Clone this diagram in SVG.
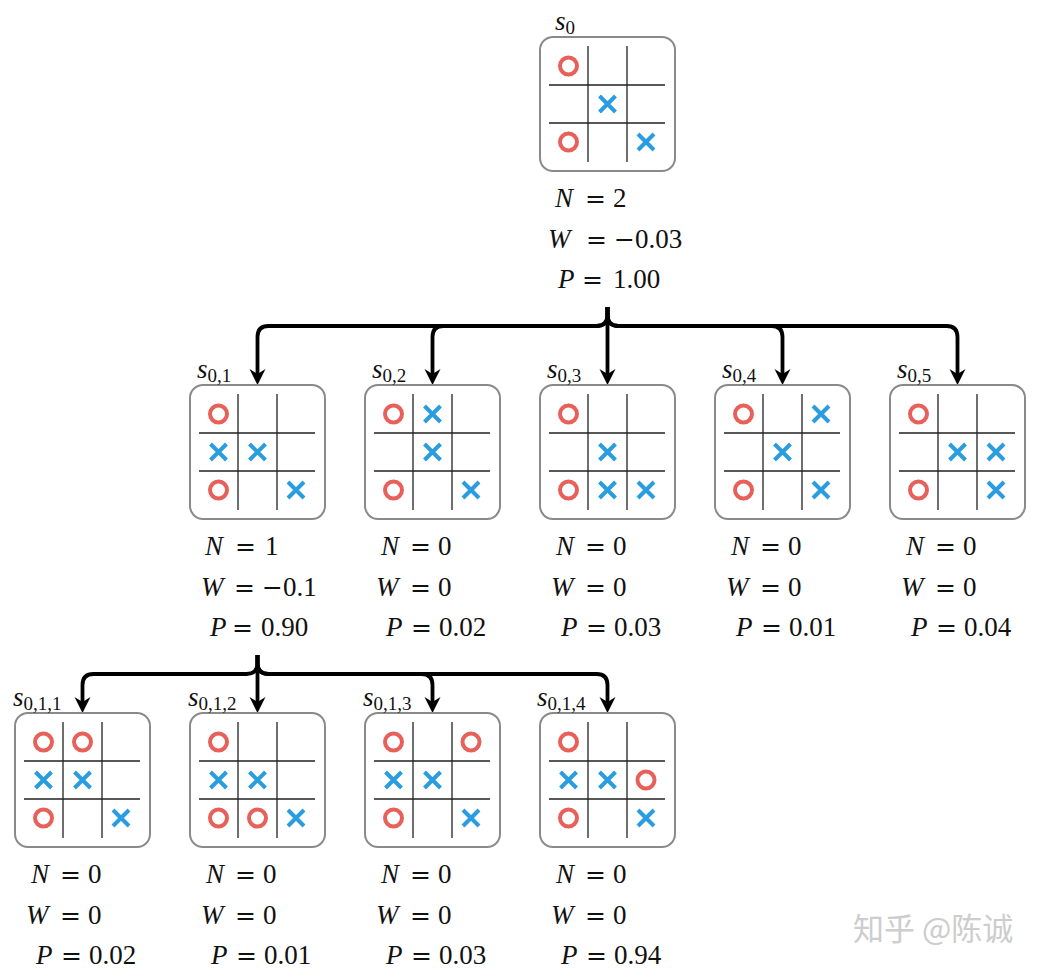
<svg xmlns="http://www.w3.org/2000/svg" xmlns:xlink="http://www.w3.org/1999/xlink" width="1042" height="972" viewBox="0 0 1042 972">
<style>
.box{fill:#fff;stroke:#8a8a8a;stroke-width:2}
.grid{fill:none;stroke:#222;stroke-width:1.3}
.o{fill:none;stroke:#E8605A;stroke-width:4}
.x{fill:none;stroke:#2A9DE0;stroke-width:4}
.conn{fill:none;stroke:#000;stroke-width:3.8;marker-end:url(#arr)}
.t{font-family:"Liberation Serif","Times New Roman",serif;font-size:27px;fill:#111}
.i{font-style:italic}
.eq{font-family:"DejaVu Serif",serif;font-size:25px}
.sub{font-size:19px}
.wm{font-family:"Noto Sans CJK SC",sans-serif;font-size:31px;fill:#cdcdcd}
</style>
<defs>
<marker id="arr" viewBox="0 -10 20 20" refX="6" refY="0" markerWidth="20" markerHeight="20" markerUnits="userSpaceOnUse" orient="auto">
<path d="M0,-8 L16,0 L0,8 L5,0 Z" fill="#000"/>
</marker>
<g id="board">
<rect x="0" y="0" width="135" height="134" rx="13" class="box"/>
<path class="grid" d="M48,9V125M87,9V125M9,48H125M9,86H125"/>
</g>
<circle id="o" r="8.5" class="o"/>
<path id="x" class="x" d="M-8,-8L8,8M-8,8L8,-8"/>
</defs>
<rect width="1042" height="972" fill="#fff"/>

<g id="connectors">
<path class="conn" d="M607.5,307V315Q607.5,326 596.5,326H268.5Q257.5,326 257.5,337V375"/>
<path class="conn" d="M607.5,307V315Q607.5,326 596.5,326H443.5Q432.5,326 432.5,337V375"/>
<path class="conn" d="M607.5,307V375"/>
<path class="conn" d="M607.5,307V315Q607.5,326 618.5,326H771.5Q782.5,326 782.5,337V375"/>
<path class="conn" d="M607.5,307V315Q607.5,326 618.5,326H946.5Q957.5,326 957.5,337V375"/>
<path class="conn" d="M257.5,655V663Q257.5,674 246.5,674H93.5Q82.5,674 82.5,685V703"/>
<path class="conn" d="M257.5,655V703"/>
<path class="conn" d="M257.5,655V663Q257.5,674 268.5,674H421.5Q432.5,674 432.5,685V703"/>
<path class="conn" d="M257.5,655V663Q257.5,674 268.5,674H596.5Q607.5,674 607.5,685V703"/>
</g>

<g id="s0" transform="translate(540,37)">
<use href="#board"/>
<use href="#o" x="28.5" y="29"/><use href="#x" x="67.5" y="67"/><use href="#o" x="28.5" y="105"/><use href="#x" x="106" y="105"/>
<text class="t" x="15" y="-7"><tspan class="i">s</tspan><tspan class="sub" dy="4">0</tspan></text>
<text class="t" y="170"><tspan class="i" x="15">N</tspan><tspan class="eq" x="45">=</tspan><tspan x="73">2</tspan></text>
<text class="t" y="211"><tspan class="i" x="8">W</tspan><tspan class="eq" x="46">=</tspan><tspan class="eq" x="74">−</tspan><tspan x="95">0.03</tspan></text>
<text class="t" y="251"><tspan class="i" x="18">P</tspan><tspan class="eq" x="42">=</tspan><tspan x="73">1.00</tspan></text>
</g>

<g id="s01" transform="translate(190,385)">
<use href="#board"/>
<use href="#o" x="28.5" y="29"/><use href="#x" x="28.5" y="67"/><use href="#x" x="67.5" y="67"/><use href="#o" x="28.5" y="105"/><use href="#x" x="106" y="105"/>
<text class="t" x="7" y="-7"><tspan class="i">s</tspan><tspan class="sub" dy="4">0,1</tspan></text>
<text class="t" y="170"><tspan class="i" x="15">N</tspan><tspan class="eq" x="45">=</tspan><tspan x="75">1</tspan></text>
<text class="t" y="211"><tspan class="i" x="11">W</tspan><tspan class="eq" x="44">=</tspan><tspan class="eq" x="72">−</tspan><tspan x="93">0.1</tspan></text>
<text class="t" y="251"><tspan class="i" x="20">P</tspan><tspan class="eq" x="42">=</tspan><tspan x="71">0.90</tspan></text>
</g>

<g id="s02" transform="translate(365,385)">
<use href="#board"/>
<use href="#o" x="28.5" y="29"/><use href="#x" x="67.5" y="29"/><use href="#x" x="67.5" y="67"/><use href="#o" x="28.5" y="105"/><use href="#x" x="106" y="105"/>
<text class="t" x="7" y="-7"><tspan class="i">s</tspan><tspan class="sub" dy="4">0,2</tspan></text>
<text class="t" y="170"><tspan class="i" x="16">N</tspan><tspan class="eq" x="45">=</tspan><tspan x="73">0</tspan></text>
<text class="t" y="211"><tspan class="i" x="11">W</tspan><tspan class="eq" x="45">=</tspan><tspan x="73">0</tspan></text>
<text class="t" y="251"><tspan class="i" x="21">P</tspan><tspan class="eq" x="46">=</tspan><tspan x="74">0.02</tspan></text>
</g>

<g id="s03" transform="translate(540,385)">
<use href="#board"/>
<use href="#o" x="28.5" y="29"/><use href="#x" x="67.5" y="67"/><use href="#o" x="28.5" y="105"/><use href="#x" x="67.5" y="105"/><use href="#x" x="106" y="105"/>
<text class="t" x="7" y="-7"><tspan class="i">s</tspan><tspan class="sub" dy="4">0,3</tspan></text>
<text class="t" y="170"><tspan class="i" x="16">N</tspan><tspan class="eq" x="45">=</tspan><tspan x="73">0</tspan></text>
<text class="t" y="211"><tspan class="i" x="11">W</tspan><tspan class="eq" x="45">=</tspan><tspan x="73">0</tspan></text>
<text class="t" y="251"><tspan class="i" x="21">P</tspan><tspan class="eq" x="46">=</tspan><tspan x="74">0.03</tspan></text>
</g>

<g id="s04" transform="translate(715,385)">
<use href="#board"/>
<use href="#o" x="28.5" y="29"/><use href="#x" x="106" y="29"/><use href="#x" x="67.5" y="67"/><use href="#o" x="28.5" y="105"/><use href="#x" x="106" y="105"/>
<text class="t" x="7" y="-7"><tspan class="i">s</tspan><tspan class="sub" dy="4">0,4</tspan></text>
<text class="t" y="170"><tspan class="i" x="16">N</tspan><tspan class="eq" x="45">=</tspan><tspan x="73">0</tspan></text>
<text class="t" y="211"><tspan class="i" x="11">W</tspan><tspan class="eq" x="45">=</tspan><tspan x="73">0</tspan></text>
<text class="t" y="251"><tspan class="i" x="21">P</tspan><tspan class="eq" x="46">=</tspan><tspan x="74">0.01</tspan></text>
</g>

<g id="s05" transform="translate(890,385)">
<use href="#board"/>
<use href="#o" x="28.5" y="29"/><use href="#x" x="67.5" y="67"/><use href="#x" x="106" y="67"/><use href="#o" x="28.5" y="105"/><use href="#x" x="106" y="105"/>
<text class="t" x="7" y="-7"><tspan class="i">s</tspan><tspan class="sub" dy="4">0,5</tspan></text>
<text class="t" y="170"><tspan class="i" x="16">N</tspan><tspan class="eq" x="45">=</tspan><tspan x="73">0</tspan></text>
<text class="t" y="211"><tspan class="i" x="11">W</tspan><tspan class="eq" x="45">=</tspan><tspan x="73">0</tspan></text>
<text class="t" y="251"><tspan class="i" x="21">P</tspan><tspan class="eq" x="46">=</tspan><tspan x="74">0.04</tspan></text>
</g>

<g id="s011" transform="translate(15,713)">
<use href="#board"/>
<use href="#o" x="28.5" y="29"/><use href="#o" x="67.5" y="29"/><use href="#x" x="28.5" y="67"/><use href="#x" x="67.5" y="67"/><use href="#o" x="28.5" y="105"/><use href="#x" x="106" y="105"/>
<text class="t" x="-2" y="-7"><tspan class="i">s</tspan><tspan class="sub" dy="4">0,1,1</tspan></text>
<text class="t" y="170"><tspan class="i" x="16">N</tspan><tspan class="eq" x="45">=</tspan><tspan x="73">0</tspan></text>
<text class="t" y="211"><tspan class="i" x="11">W</tspan><tspan class="eq" x="45">=</tspan><tspan x="73">0</tspan></text>
<text class="t" y="251"><tspan class="i" x="21">P</tspan><tspan class="eq" x="46">=</tspan><tspan x="74">0.02</tspan></text>
</g>

<g id="s012" transform="translate(190,713)">
<use href="#board"/>
<use href="#o" x="28.5" y="29"/><use href="#x" x="28.5" y="67"/><use href="#x" x="67.5" y="67"/><use href="#o" x="28.5" y="105"/><use href="#o" x="67.5" y="105"/><use href="#x" x="106" y="105"/>
<text class="t" x="-2" y="-7"><tspan class="i">s</tspan><tspan class="sub" dy="4">0,1,2</tspan></text>
<text class="t" y="170"><tspan class="i" x="16">N</tspan><tspan class="eq" x="45">=</tspan><tspan x="73">0</tspan></text>
<text class="t" y="211"><tspan class="i" x="11">W</tspan><tspan class="eq" x="45">=</tspan><tspan x="73">0</tspan></text>
<text class="t" y="251"><tspan class="i" x="21">P</tspan><tspan class="eq" x="46">=</tspan><tspan x="74">0.01</tspan></text>
</g>

<g id="s013" transform="translate(365,713)">
<use href="#board"/>
<use href="#o" x="28.5" y="29"/><use href="#o" x="106" y="29"/><use href="#x" x="28.5" y="67"/><use href="#x" x="67.5" y="67"/><use href="#o" x="28.5" y="105"/><use href="#x" x="106" y="105"/>
<text class="t" x="-2" y="-7"><tspan class="i">s</tspan><tspan class="sub" dy="4">0,1,3</tspan></text>
<text class="t" y="170"><tspan class="i" x="16">N</tspan><tspan class="eq" x="45">=</tspan><tspan x="73">0</tspan></text>
<text class="t" y="211"><tspan class="i" x="11">W</tspan><tspan class="eq" x="45">=</tspan><tspan x="73">0</tspan></text>
<text class="t" y="251"><tspan class="i" x="21">P</tspan><tspan class="eq" x="46">=</tspan><tspan x="74">0.03</tspan></text>
</g>

<g id="s014" transform="translate(540,713)">
<use href="#board"/>
<use href="#o" x="28.5" y="29"/><use href="#x" x="28.5" y="67"/><use href="#x" x="67.5" y="67"/><use href="#o" x="106" y="67"/><use href="#o" x="28.5" y="105"/><use href="#x" x="106" y="105"/>
<text class="t" x="-3" y="-7"><tspan class="i">s</tspan><tspan class="sub" dy="4">0,1,4</tspan></text>
<text class="t" y="170"><tspan class="i" x="16">N</tspan><tspan class="eq" x="45">=</tspan><tspan x="73">0</tspan></text>
<text class="t" y="211"><tspan class="i" x="11">W</tspan><tspan class="eq" x="45">=</tspan><tspan x="73">0</tspan></text>
<text class="t" y="251"><tspan class="i" x="21">P</tspan><tspan class="eq" x="46">=</tspan><tspan x="74">0.94</tspan></text>
</g>

<text class="wm" x="853" y="940">知乎 @陈诚</text>
</svg>
